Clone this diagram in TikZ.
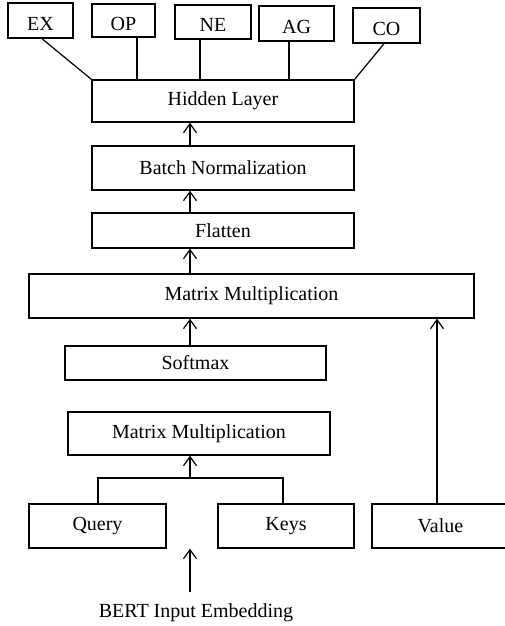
\documentclass[tikz,border=0pt]{standalone}
\usepackage{fontspec}
\setmainfont{Liberation Serif}
\usetikzlibrary{arrows.meta}
\begin{document}
\begin{tikzpicture}[x=1pt,y=-1pt,
  box/.style={draw,line width=1.4pt,rectangle,inner sep=0pt,
    font=\fontsize{20}{24}\selectfont},
  headbox/.style={box,text height=19.2pt,text depth=0pt},
  link/.style={line width=1.2pt},
  flow/.style={line width=1.2pt,-{Straight Barb[length=9pt,width=13pt,line width=1.2pt]}}]
  \useasboundingbox (0,0) rectangle (505,626);
  % output heads
  \node[headbox,minimum width=65pt,minimum height=35pt] (ex) at (40.5,20.5) {EX};
  \node[headbox,minimum width=63pt,minimum height=33pt] (op) at (123.5,20.5) {OP};
  \node[headbox,minimum width=76pt,minimum height=34pt] (ne) at (213,22) {NE};
  \node[headbox,minimum width=75pt,minimum height=35pt] (ag) at (296.5,23.5) {AG};
  \node[headbox,minimum width=67pt,minimum height=35pt] (co) at (386.5,25.5) {CO};
  % main stack
  \node[box,minimum width=262pt,minimum height=42pt] (hid) at (223,101) {Hidden Layer};
  \node[box,minimum width=262pt,minimum height=44pt] (bn) at (223,168) {Batch Normalization};
  \node[box,minimum width=262pt,minimum height=35pt] (fl) at (223,230.5) {Flatten};
  \node[box,minimum width=445pt,minimum height=44pt] (mm1) at (251.5,296) {Matrix Multiplication};
  \node[box,minimum width=261pt,minimum height=34pt] (sm) at (195.5,363) {Softmax};
  \node[box,minimum width=262pt,minimum height=43pt] (mm2) at (199,433.5) {Matrix Multiplication};
  \node[box,minimum width=137pt,minimum height=44pt] (q) at (97.5,526) {Query};
  \node[box,minimum width=136pt,minimum height=44pt] (k) at (286,526) {Keys};
  \node[box,minimum width=137pt,minimum height=44pt] (v) at (440.5,526) {Value};
  \node[anchor=base,inner sep=0pt,font=\fontsize{20}{24}\selectfont] (in) at (196,617) {BERT Input Embedding};
  % vertical axis of the flow and helper points
  \coordinate (ax) at (190,0);
  \coordinate (vx) at (437,0);
  \coordinate (jn) at (190,478);
  \coordinate (src) at (190,592);
  % heads to hidden layer
  \draw[link] ([xshift=1.5pt]ex.south) -- (hid.north west);
  \draw[link] ([xshift=13.5pt]op.south) -- ([xshift=13.5pt]op.south |- hid.north);
  \draw[link] ([xshift=-13pt]ne.south) -- ([xshift=-13pt]ne.south |- hid.north);
  \draw[link] ([xshift=-7.5pt]ag.south) -- ([xshift=-7.5pt]ag.south |- hid.north);
  \draw[link] ([xshift=-2.5pt]co.south) -- (hid.north east);
  % upward flow
  \draw[flow] (ax |- bn.north) -- (ax |- hid.south);
  \draw[flow] (ax |- fl.north) -- (ax |- bn.south);
  \draw[flow] (ax |- mm1.north) -- (ax |- fl.south);
  \draw[flow] (ax |- sm.north) -- (ax |- mm1.south);
  \draw[flow] (jn) -- (ax |- mm2.south);
  \draw[link] (q.north -| 98,0) |- (jn) -| (k.north -| 283,0);
  \draw[flow] (src) -- (ax |- q.south);
  \draw[flow] (vx |- v.north) -- (vx |- mm1.south);
\end{tikzpicture}
\end{document}
